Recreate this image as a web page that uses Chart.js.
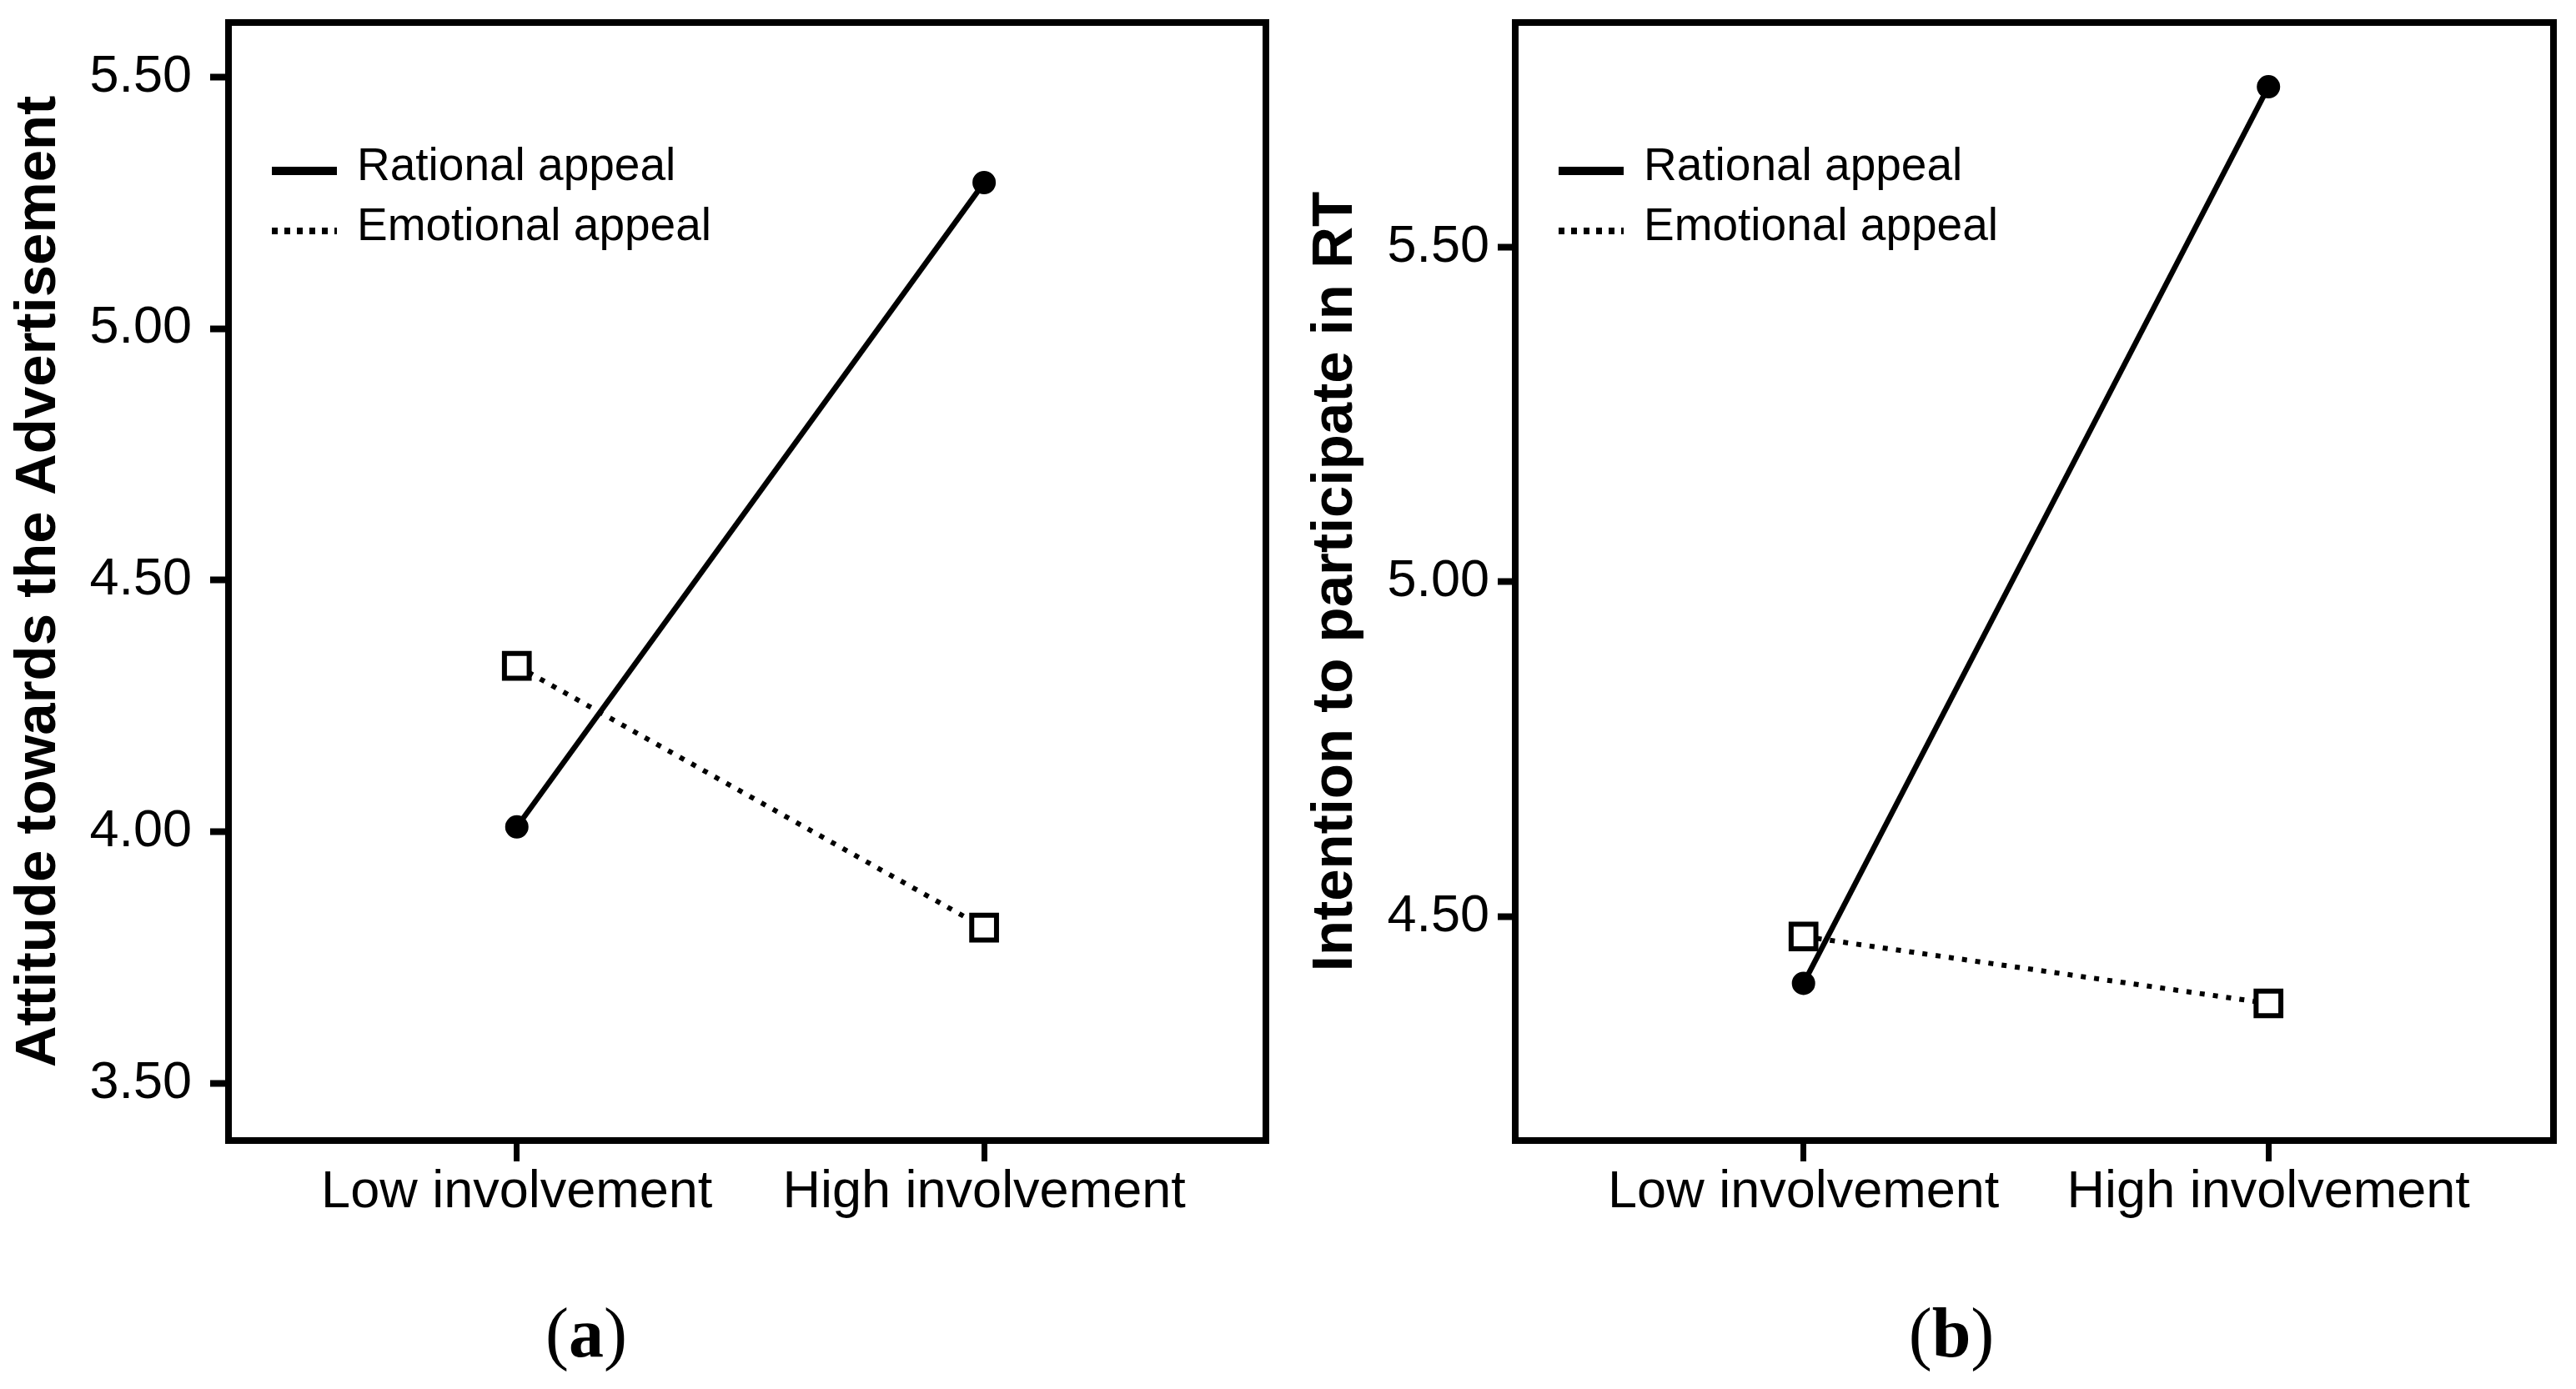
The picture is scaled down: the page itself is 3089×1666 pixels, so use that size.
<!DOCTYPE html>
<html>
<head>
<meta charset="utf-8">
<script src="https://cdn.jsdelivr.net/npm/chart.js@4.4.1/dist/chart.umd.min.js"></script>
<style>
  body { margin: 0; background: #fff; width: 3089px; height: 1666px; position: relative; overflow: hidden; }
  canvas { position: absolute; top: 0; }
  #chartA { left: 0; }
  #chartB { left: 1545px; }
  .cap { position: absolute; width: 200px; text-align: center; font: 84px/1 "Liberation Serif", "Times New Roman", serif; color: #000; }
</style>
</head>
<body>
<canvas id="chartA" width="1545" height="1520" style="width:1545px;height:1520px"></canvas>
<canvas id="chartB" width="1544" height="1520" style="width:1544px;height:1520px"></canvas>
<div class="cap" style="left:603px;top:1557px">(<b>a</b>)</div>
<div class="cap" style="left:2240px;top:1557px">(<b>b</b>)</div>
<script>
// values
const categories = ['Low involvement', 'High involvement'];
const seriesNames = ['Rational appeal', 'Emotional appeal'];
const rationalA = [4.01, 5.29];
const emotionalA = [4.33, 3.81];
const rationalB = [4.40, 5.74];
const emotionalB = [4.47, 4.37];
const yTicksA = [3.5, 4.0, 4.5, 5.0, 5.5];
const yTicksB = [4.5, 5.0, 5.5];
const yTitleA = 'Attitude towards the Advertisement';
const yTitleB = 'Intention to participate in RT';

const FONT = '"Liberation Sans", Arial, sans-serif';

// frame round the plot area plus the small legend in its top left corner
const frameLegend = {
    id: 'frameLegend',
    afterDatasetsDraw(chart) {
        const ctx = chart.ctx, a = chart.chartArea;
        ctx.save();
        ctx.strokeStyle = '#000';
        ctx.lineWidth = 8;
        ctx.strokeRect(a.left, a.top, a.right - a.left, a.bottom - a.top);
        const rows = [
            { y: 178, dash: [], width: 10 },
            { y: 250, dash: [7, 8], width: 8 }
        ];
        chart.data.datasets.forEach(function (ds, i) {
            const y = a.top + rows[i].y;
            ctx.beginPath();
            ctx.setLineDash(rows[i].dash);
            ctx.lineWidth = rows[i].width;
            ctx.moveTo(a.left + 52, y);
            ctx.lineTo(a.left + 130, y);
            ctx.stroke();
            ctx.setLineDash([]);
            ctx.fillStyle = '#000';
            ctx.font = '55px ' + FONT;
            ctx.textBaseline = 'middle';
            ctx.fillText(ds.label, a.left + 154, y - 4);
        });
        ctx.restore();
    }
};

function points(vals) {
    return categories.map((c, i) => ({ x: i + 1, y: vals[i] }));
}

function makePanel(id, rational, emotional, yTicks, yTitle, lay) {
    return new Chart(document.getElementById(id), {
        type: 'line',
        data: {
            datasets: [
                {
                    label: seriesNames[0], data: points(rational),
                    borderColor: '#000', borderWidth: 6.5,
                    pointStyle: 'circle', pointRadius: 12, pointBorderWidth: 4,
                    pointBackgroundColor: '#000', pointBorderColor: '#000'
                },
                {
                    label: seriesNames[1], data: points(emotional),
                    borderColor: '#000', borderWidth: 6, borderDash: [6, 10],
                    pointStyle: 'rect', pointRadius: 21, pointBorderWidth: 6,
                    pointBackgroundColor: '#fff', pointBorderColor: '#000'
                }
            ]
        },
        options: {
            responsive: false,
            devicePixelRatio: 1,
            animation: false,
            layout: { padding: { top: 25, right: lay.right, bottom: 0, left: 0 } },
            plugins: { legend: { display: false }, tooltip: { enabled: false } },
            scales: {
                x: {
                    type: 'linear', min: lay.xMin, max: lay.xMax,
                    border: { display: false },
                    grid: { drawOnChartArea: false, drawTicks: true, tickLength: 25, tickWidth: 7, tickColor: '#000' },
                    ticks: {
                        color: '#000', font: { family: FONT, size: 63 }, padding: 0,
                        autoSkip: false, maxRotation: 0,
                        callback: (v) => categories[v - 1]
                    },
                    afterBuildTicks: (s) => { s.ticks = categories.map((c, i) => ({ value: i + 1 })); },
                    afterFit: (s) => { s.height = 152; s.paddingLeft = 0; s.paddingRight = 0; }
                },
                y: {
                    type: 'linear', min: lay.yMin, max: lay.yMax,
                    border: { display: false },
                    grid: { drawOnChartArea: false, drawTicks: true, tickLength: lay.tick, tickWidth: 8, tickColor: '#000' },
                    ticks: {
                        color: '#000', font: { family: FONT, size: 63 }, padding: lay.tickPad,
                        callback: (v) => v.toFixed(2)
                    },
                    afterBuildTicks: (s) => { s.ticks = yTicks.map((v) => ({ value: v })); },
                    afterFit: (s) => { s.width = lay.yWidth; s.paddingTop = 0; s.paddingBottom = 0; },
                    title: {
                        display: true, text: yTitle, color: '#000',
                        font: { family: FONT, size: 69, weight: 'bold' },
                        padding: { top: lay.titlePad, bottom: 0 }
                    }
                }
            }
        },
        plugins: [frameLegend]
    });
}

makePanel('chartA', rationalA, emotionalA, yTicksA, yTitleA,
    { right: 23, yWidth: 274, xMin: 0.383, xMax: 2.603, yMin: 3.387, yMax: 5.608, tick: 22, tickPad: 22, titlePad: 6 });
makePanel('chartB', rationalB, emotionalB, yTicksB, yTitleB,
    { right: 24, yWidth: 272, xMin: 0.38, xMax: 2.613, yMin: 4.165, yMax: 5.836, tick: 21, tickPad: 10, titlePad: 16 });
</script>
</body>
</html>
